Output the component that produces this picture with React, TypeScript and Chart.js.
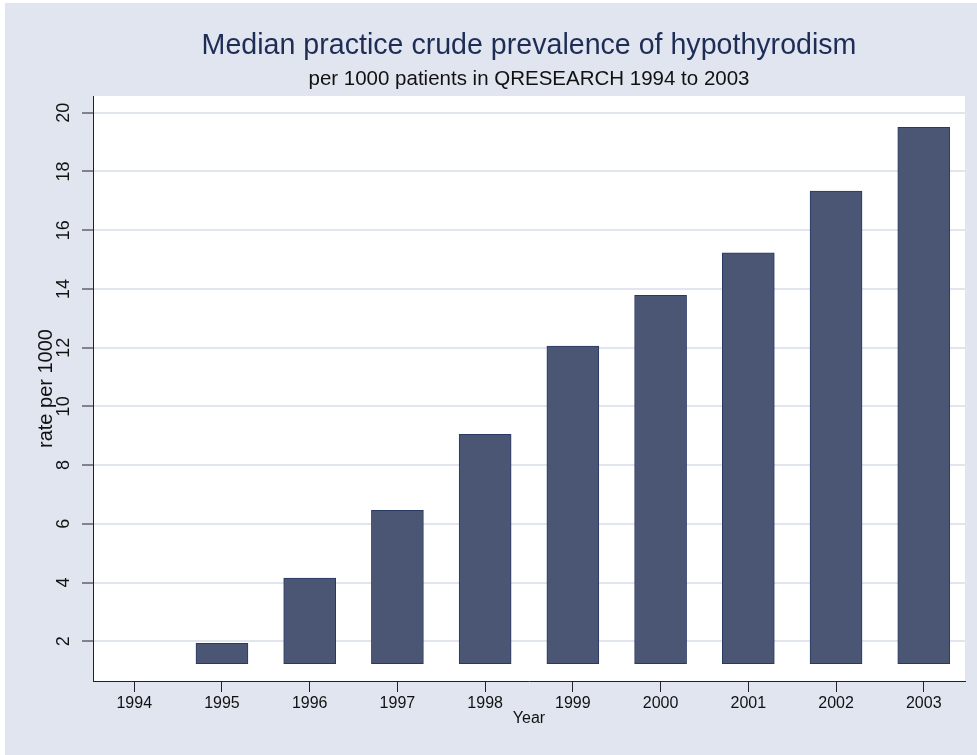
import React, { useEffect, useRef } from 'react';
import { Chart, registerables } from 'chart.js';

Chart.register(...registerables);

const years = [1994, 1995, 1996, 1997, 1998, 1999, 2000, 2001, 2002, 2003];
const rates = [1.24, 1.93, 4.15, 6.46, 9.05, 12.05, 13.78, 15.23, 17.33, 19.5];
const barBase = 1.24;
const yTicks = [2, 4, 6, 8, 10, 12, 14, 16, 18, 20];
const xTicks = years;
const titleText = 'Median practice crude prevalence of hypothyrodism';
const subtitleText = 'per 1000 patients in QRESEARCH 1994 to 2003';
const xTitleText = 'Year';
const yTitleText = 'rate per 1000';

const FONT = '"Liberation Sans", Arial, Helvetica, sans-serif';
const BG = 'rgb(224,229,240)';
const GRID = 'rgb(224,229,240)';
const AXIS = '#222222';
const BAR_FILL = 'rgb(75,86,116)';
const BAR_BORDER = 'rgb(40,58,100)';
const TITLE_COLOR = 'rgb(30,45,85)';

const decorPlugin = {
  id: 'decor',
  beforeDraw(chart: any) {
    const { ctx, chartArea, width, height } = chart;
    ctx.save();
    ctx.fillStyle = '#ffffff';
    ctx.fillRect(0, 0, width, height);
    ctx.fillStyle = BG;
    ctx.fillRect(5, 3, width - 5, height - 3);
    ctx.fillStyle = '#ffffff';
    ctx.fillRect(chartArea.left, chartArea.top, chartArea.right - chartArea.left, chartArea.bottom - chartArea.top);
    ctx.restore();
  },
  afterDraw(chart: any) {
    const { ctx, chartArea } = chart;
    const cx = (chartArea.left + chartArea.right) / 2;
    ctx.save();
    ctx.textAlign = 'center';
    ctx.textBaseline = 'middle';
    ctx.fillStyle = TITLE_COLOR;
    ctx.font = `28.6px ${FONT}`;
    ctx.fillText(titleText, cx, 46);
    ctx.fillStyle = '#111111';
    ctx.font = `20.5px ${FONT}`;
    ctx.fillText(subtitleText, cx, 79);
    // rotated y tick labels
    const ys = chart.scales.y;
    ctx.font = `18px ${FONT}`;
    ctx.fillStyle = '#111111';
    ys.ticks.forEach((t: any) => {
      const py = ys.getPixelForValue(t.value);
      ctx.save();
      ctx.translate(64, py);
      ctx.rotate(-Math.PI / 2);
      ctx.textAlign = 'center';
      ctx.textBaseline = 'middle';
      ctx.fillText(String(t.value), 0, 0);
      ctx.restore();
    });
    ctx.restore();
  },
};

export default function App() {
  const ref = useRef<HTMLCanvasElement | null>(null);
  useEffect(() => {
    if (!ref.current) return;
    const chart = new Chart(ref.current, {
      type: 'bar',
      data: {
        datasets: [
          {
            data: years.map((y, i) => ({ x: y, y: [barBase, rates[i]] })) as any,
            backgroundColor: (c: any) => (rates[c.dataIndex] <= barBase ? 'rgba(0,0,0,0)' : BAR_FILL),
            borderColor: BAR_BORDER,
            borderWidth: (c: any) => (rates[c.dataIndex] <= barBase ? 0 : 1),
            borderSkipped: false,
            barThickness: 52,
          },
        ],
      },
      options: {
        animation: false,
        responsive: false,
        devicePixelRatio: 1,
        layout: { padding: { left: 0, right: 12, top: 96, bottom: 0 } },
        plugins: { legend: { display: false }, tooltip: { enabled: false }, title: { display: false } },
        scales: {
          x: {
            type: 'linear',
            min: 1993.53,
            max: 2003.47,
            offset: false,
            afterBuildTicks: (s: any) => {
              s.ticks = xTicks.map((v) => ({ value: v }));
            },
            afterFit: (s: any) => {
              s.height = 74;
            },
            ticks: {
              color: '#111111',
              font: { family: FONT, size: 16 },
              padding: 2,
              callback: (v: any) => String(v),
              maxRotation: 0,
              minRotation: 0,
              autoSkip: false,
            },
            grid: { display: true, drawOnChartArea: false, offset: false, tickLength: 11, tickColor: AXIS, tickWidth: 1 },
            border: { display: true, color: AXIS, width: 1 },
            title: { display: true, text: xTitleText, color: '#111111', font: { family: FONT, size: 16 }, padding: { top: 0, bottom: 27 } },
          },
          y: {
            type: 'linear',
            min: 0.648,
            max: 20.569,
            afterBuildTicks: (s: any) => {
              s.ticks = yTicks.map((v) => ({ value: v }));
            },
            afterFit: (s: any) => {
              s.width = 93;
            },
            ticks: { display: false },
            grid: { display: true, drawOnChartArea: true, color: GRID, lineWidth: 2, tickLength: 11, tickColor: AXIS, tickWidth: 1 },
            border: { display: true, color: AXIS, width: 1 },
            title: { display: true, text: yTitleText, color: '#111111', font: { family: FONT, size: 20 }, padding: { top: 34, bottom: 0 } },
          },
        },
      },
      plugins: [decorPlugin],
    } as any);
    return () => chart.destroy();
  }, []);
  return (
    <div style={{ position: 'absolute', left: 0, top: 0, width: 977, height: 755 }}>
      <canvas ref={ref} width={977} height={755} style={{ display: 'block' }} />
    </div>
  );
}
